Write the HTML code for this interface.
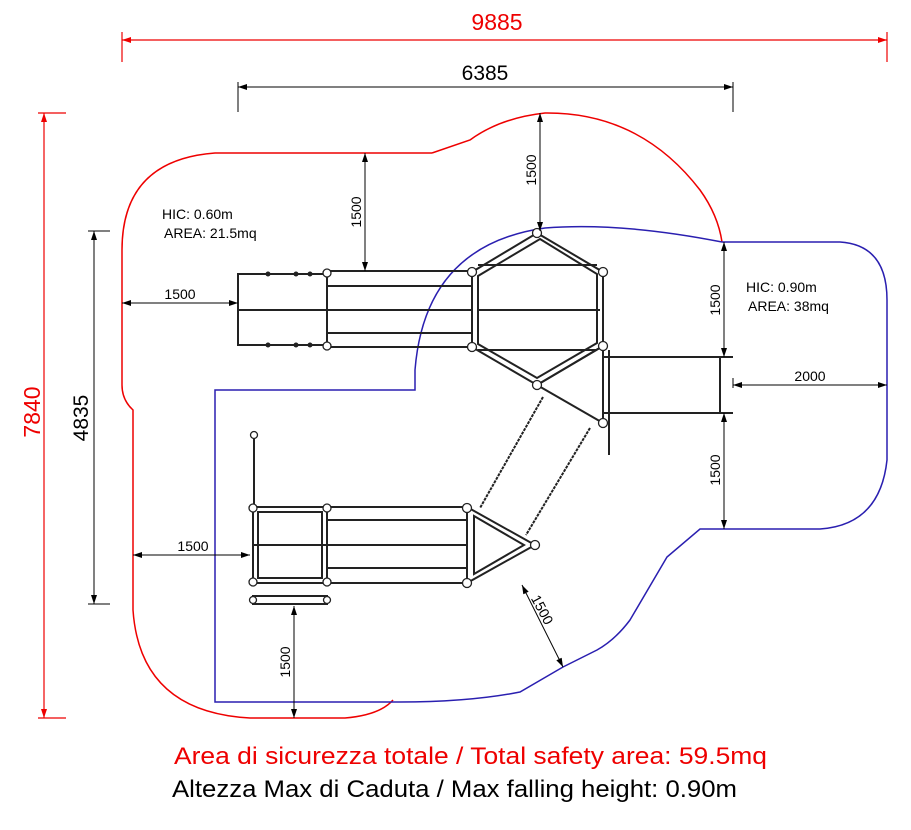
<!DOCTYPE html>
<html><head><meta charset="utf-8"><style>
html,body{margin:0;padding:0;background:#fff;}
svg{display:block;font-family:"Liberation Sans",sans-serif;}
</style></head><body>
<svg width="911" height="830" viewBox="0 0 911 830" xmlns="http://www.w3.org/2000/svg">
<defs>
<marker id="a" markerWidth="10" markerHeight="8" refX="9" refY="4" orient="auto-start-reverse" markerUnits="userSpaceOnUse"><path d="M0,1 L9,4 L0,7 z" fill="#000"/></marker>
<marker id="r" markerWidth="10" markerHeight="8" refX="9" refY="4" orient="auto-start-reverse" markerUnits="userSpaceOnUse"><path d="M0,1 L9,4 L0,7 z" fill="#e00"/></marker>
</defs>
<rect width="911" height="830" fill="#fff"/>
<path d="M432,153 L215,153 Q122,160 122,250 L122,385 Q122,400 133,410 L133,610 Q140,712 250,718 L345,718 Q380,715 393,700" fill="none" stroke="#e00" stroke-width="1.5"/>
<path d="M432,153 L470,140 Q500,118 545,113 Q640,112 700,190 Q718,215 722,242" fill="none" stroke="#e00" stroke-width="1.5"/>
<path d="M722,242 L840,242 Q887,245 887,300 L887,460 Q880,525 820,529 L700,529 L667,557 L630,620 Q615,640 597,650 L563,667 L520,692 Q470,702 400,702 L215,702 L215,390 L415,390 L415,370 Q425,245 545,228 Q620,222 722,242" fill="none" stroke="#2a1fb0" stroke-width="1.5"/>
<g fill="none" stroke="#222" stroke-width="2">
<rect x="238" y="274" width="89" height="71"/>
<line x1="238" y1="310" x2="327" y2="310"/>
<rect x="327" y="271" width="145" height="76"/>
<line x1="327" y1="286" x2="472" y2="286"/><line x1="327" y1="310" x2="472" y2="310"/><line x1="327" y1="333" x2="472" y2="333"/>
<polygon points="537,233 603,272 603,346 537,385 472,347 472,272"/>
<polygon points="540,239 597,274 597,343 537,378 478,344 478,276"/>
<line x1="478" y1="265" x2="597" y2="265"/><line x1="478" y1="310" x2="600" y2="310"/><line x1="478" y1="350" x2="597" y2="350"/>
<line x1="537" y1="385" x2="603" y2="423"/><line x1="603" y1="346" x2="603" y2="423"/><line x1="537" y1="385" x2="603" y2="346"/>
<line x1="609" y1="350" x2="609" y2="455"/>
<rect x="603" y="357" width="117" height="56"/>
<line x1="720" y1="357" x2="733" y2="357"/><line x1="720" y1="413" x2="733" y2="413"/>
<line x1="543" y1="397" x2="480" y2="508" stroke-dasharray="3,1"/>
<line x1="590" y1="428" x2="526" y2="535" stroke-dasharray="3,1"/>
<rect x="253" y="507" width="74" height="76"/>
<rect x="258" y="512" width="64" height="66"/>
<line x1="253" y1="545" x2="327" y2="545"/>
<rect x="327" y="507" width="140" height="76"/>
<line x1="327" y1="520" x2="467" y2="520"/><line x1="327" y1="545" x2="467" y2="545"/><line x1="327" y1="568" x2="467" y2="568"/>
<polygon points="467,507 535,545 467,583"/>
<polygon points="474,516 524,545 474,574"/>
<rect x="253" y="596" width="74" height="8"/>
<line x1="254" y1="435" x2="254" y2="507"/>
</g>
<g fill="#fff" stroke="#222" stroke-width="1.3">
<circle cx="537" cy="233" r="4.5"/><circle cx="603" cy="272" r="4.5"/><circle cx="472" cy="272" r="4.5"/><circle cx="472" cy="347" r="4.5"/><circle cx="603" cy="346" r="4.5"/><circle cx="537" cy="385" r="4.5"/><circle cx="603" cy="423" r="4.5"/>
<circle cx="327" cy="273" r="4"/><circle cx="327" cy="346" r="4"/>
<circle cx="253" cy="508" r="4"/><circle cx="327" cy="508" r="4"/><circle cx="253" cy="582" r="4"/><circle cx="327" cy="582" r="4"/>
<circle cx="467" cy="508" r="4.5"/><circle cx="535" cy="545" r="4.5"/><circle cx="467" cy="583" r="4.5"/>
<circle cx="253" cy="600" r="3.5"/><circle cx="327" cy="600" r="3.5"/><circle cx="254" cy="435" r="3.5"/>
</g>
<g fill="#222"><circle cx="268" cy="274" r="2.5"/><circle cx="296" cy="274" r="2.5"/><circle cx="268" cy="345" r="2.5"/><circle cx="296" cy="345" r="2.5"/><circle cx="310" cy="345" r="2.5"/><circle cx="310" cy="274" r="2.5"/></g>
<g stroke="#e00" stroke-width="1.2" fill="none">
<line x1="122" y1="40" x2="887" y2="40" marker-start="url(#r)" marker-end="url(#r)"/>
<line x1="122" y1="32" x2="122" y2="62"/><line x1="887" y1="32" x2="887" y2="62"/>
<line x1="44" y1="113" x2="44" y2="718" marker-start="url(#r)" marker-end="url(#r)"/>
<line x1="38" y1="113" x2="66" y2="113"/><line x1="38" y1="718" x2="66" y2="718"/>
</g>
<text x="497" y="30" font-size="23" fill="#e00" text-anchor="middle">9885</text>
<text transform="translate(40,412) rotate(-90)" font-size="23" fill="#e00" text-anchor="middle">7840</text>
<g stroke="#000" stroke-width="1" fill="none">
<line x1="238" y1="87" x2="733" y2="87" marker-start="url(#a)" marker-end="url(#a)"/>
<line x1="238" y1="82" x2="238" y2="112"/><line x1="733" y1="82" x2="733" y2="112"/>
<line x1="94" y1="231" x2="94" y2="604" marker-start="url(#a)" marker-end="url(#a)"/>
<line x1="88" y1="231" x2="110" y2="231"/><line x1="88" y1="604" x2="110" y2="604"/>
<line x1="365" y1="153" x2="365" y2="271" marker-start="url(#a)" marker-end="url(#a)"/>
<line x1="540" y1="113" x2="540" y2="231" marker-start="url(#a)" marker-end="url(#a)"/>
<line x1="122" y1="303" x2="238" y2="303" marker-start="url(#a)" marker-end="url(#a)"/>
<line x1="133" y1="555" x2="250" y2="555" marker-start="url(#a)" marker-end="url(#a)"/>
<line x1="294" y1="606" x2="294" y2="718" marker-start="url(#a)" marker-end="url(#a)"/>
<line x1="724" y1="242" x2="724" y2="357" marker-start="url(#a)" marker-end="url(#a)"/>
<line x1="724" y1="413" x2="724" y2="529" marker-start="url(#a)" marker-end="url(#a)"/>
<line x1="733" y1="385" x2="887" y2="385" marker-start="url(#a)" marker-end="url(#a)"/>
<line x1="733" y1="378" x2="733" y2="388"/>
<line x1="522" y1="585" x2="563" y2="667" marker-start="url(#a)" marker-end="url(#a)"/>
</g>
<g font-size="14" fill="#000">
<text x="485" y="80" font-size="21" text-anchor="middle">6385</text>
<text transform="translate(88,418) rotate(-90)" font-size="21" text-anchor="middle">4835</text>
<text transform="translate(361,212) rotate(-90)" text-anchor="middle">1500</text>
<text transform="translate(536,170) rotate(-90)" text-anchor="middle">1500</text>
<text x="180" y="299" text-anchor="middle">1500</text>
<text x="193" y="551" text-anchor="middle">1500</text>
<text transform="translate(290,662) rotate(-90)" text-anchor="middle">1500</text>
<text transform="translate(720,300) rotate(-90)" text-anchor="middle">1500</text>
<text transform="translate(720,470) rotate(-90)" text-anchor="middle">1500</text>
<text x="810" y="381" text-anchor="middle">2000</text>
<text transform="translate(538,612) rotate(62)" text-anchor="middle">1500</text>
<text x="162" y="219">HIC: 0.60m</text>
<text x="164" y="238">AREA: 21.5mq</text>
<text x="746" y="292">HIC: 0.90m</text>
<text x="748" y="311">AREA: 38mq</text>
</g>
<text x="174" y="764" font-size="24" fill="#e00" textLength="593" lengthAdjust="spacingAndGlyphs">Area di sicurezza totale / Total safety area: 59.5mq</text>
<text x="172" y="797" font-size="24" fill="#000" textLength="565" lengthAdjust="spacingAndGlyphs">Altezza Max di Caduta / Max falling height: 0.90m</text>
</svg>
</body></html>
